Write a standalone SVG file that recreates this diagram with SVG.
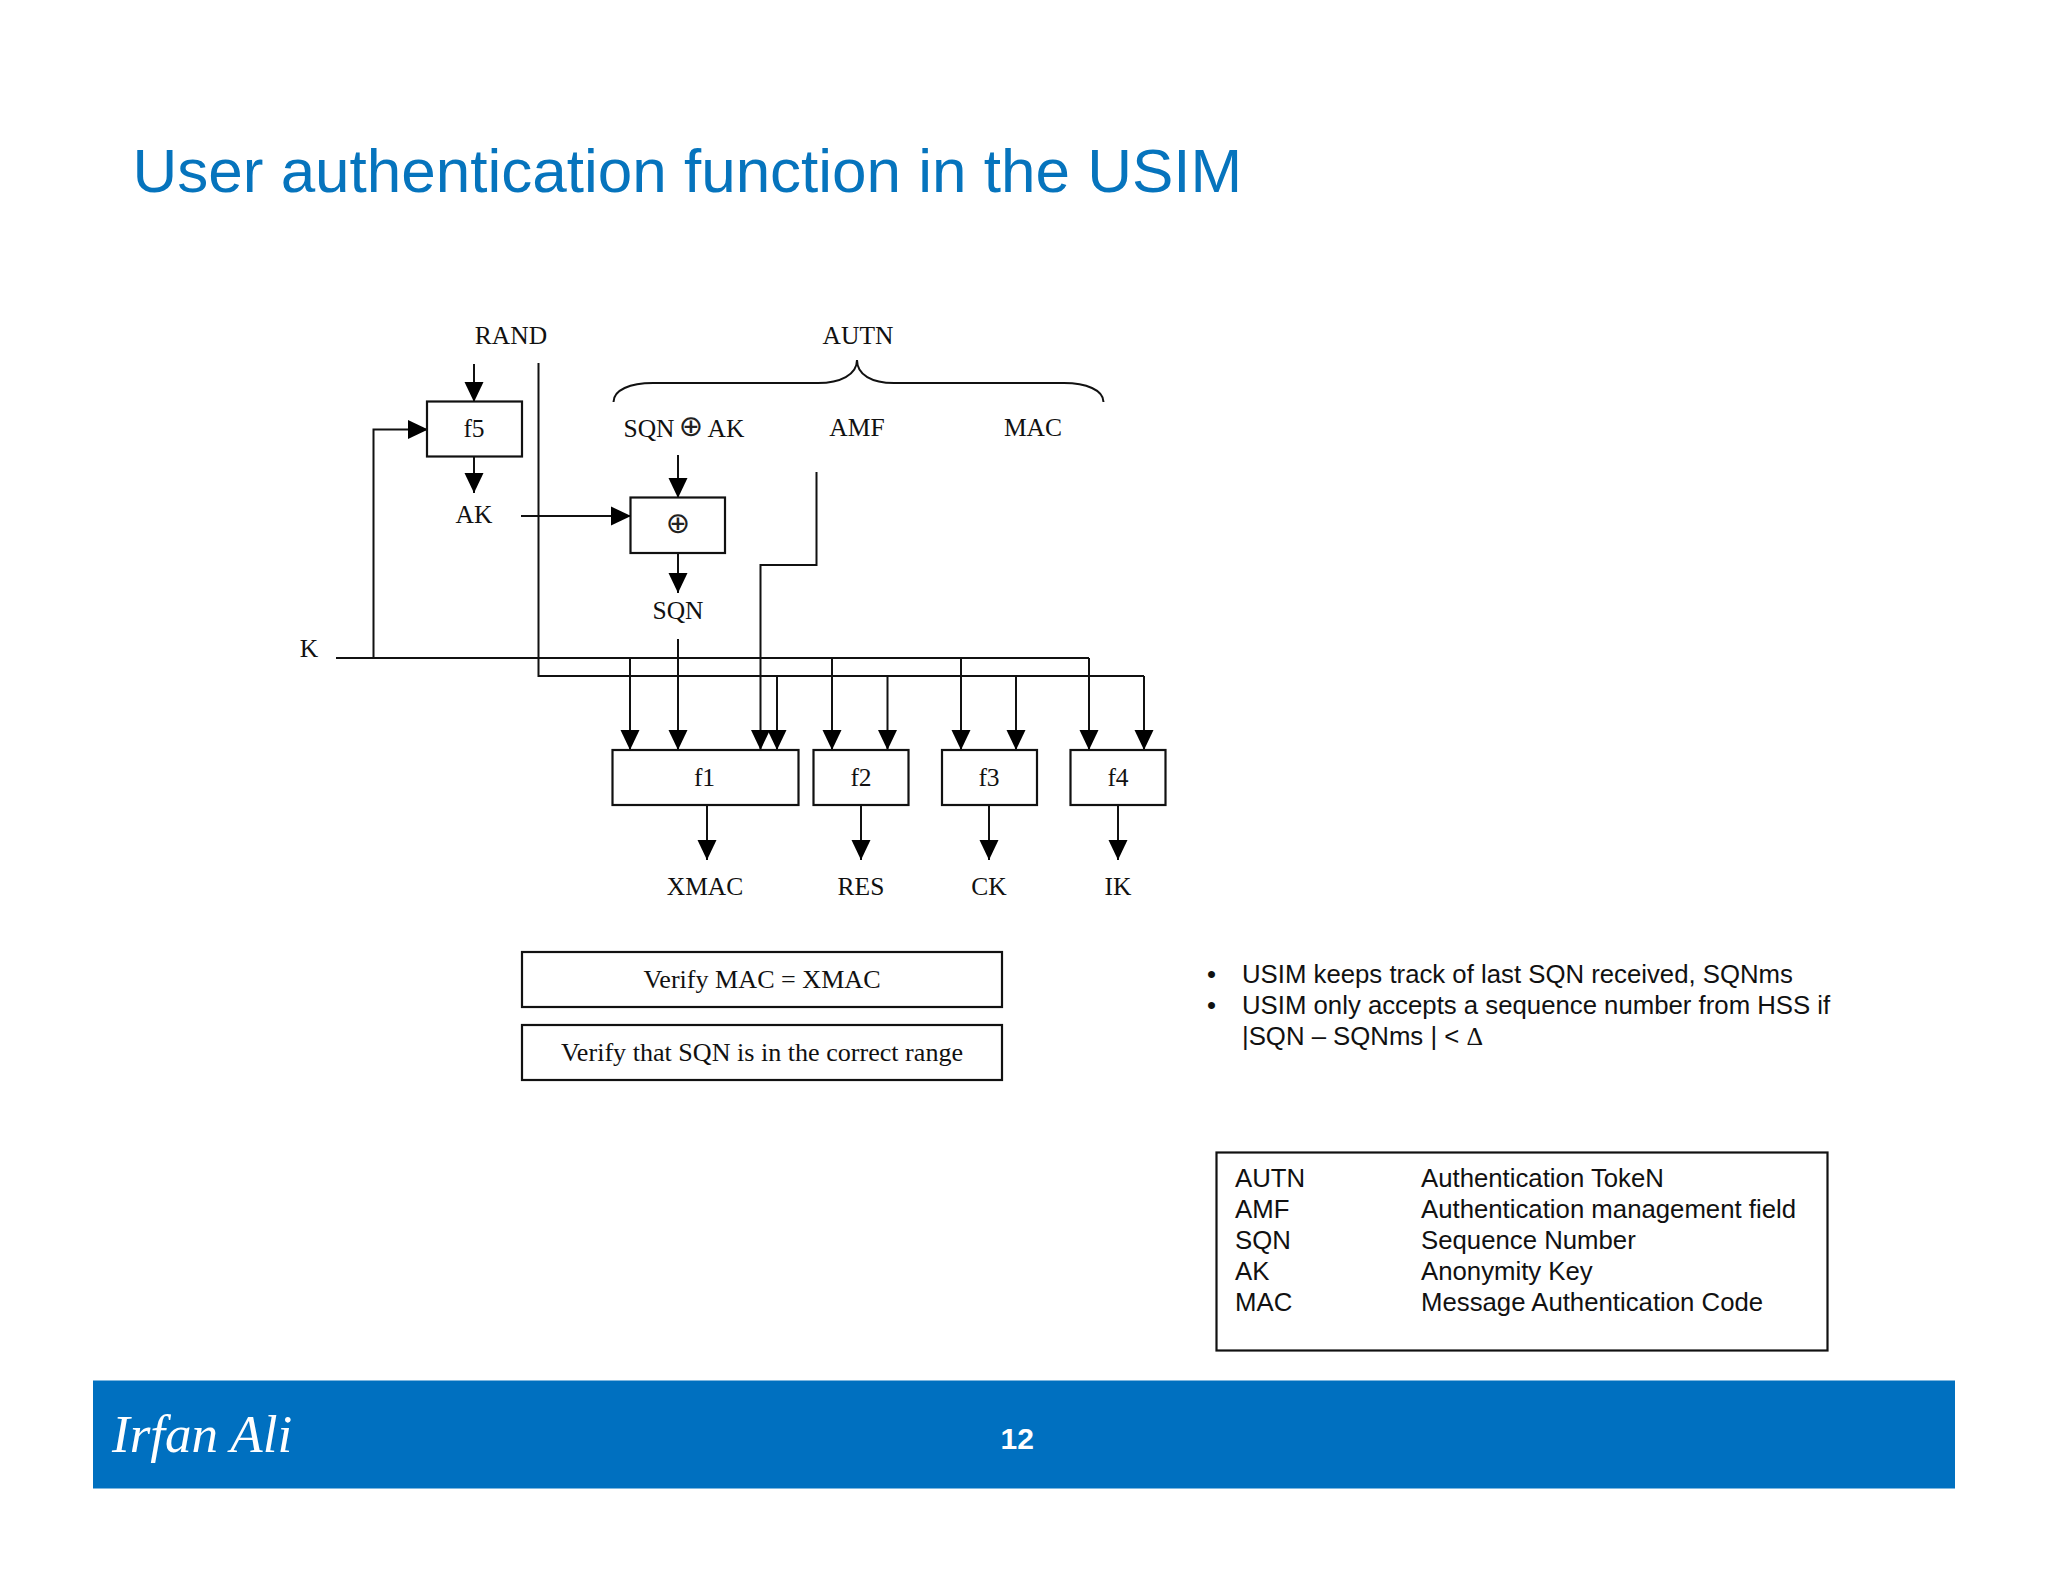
<svg xmlns="http://www.w3.org/2000/svg" width="2048" height="1582" viewBox="0 0 2048 1582">
<style>
.s{font-family:"Liberation Serif","Times New Roman",serif;font-size:25.5px;fill:#111;text-anchor:middle}
.v{font-size:26.100px}
.x{font-family:"DejaVu Sans",sans-serif;font-size:29px;fill:#222;text-anchor:middle}
.a{font-family:"Liberation Sans",Arial,sans-serif;font-size:25.750px;fill:#111}
.b{fill:#fff;stroke:#111;stroke-width:2.200}
.c{fill:none;stroke:#111;stroke-width:2}
.ar{marker-end:url(#h)}
</style>
<defs><marker id="h" markerUnits="userSpaceOnUse" markerWidth="20" markerHeight="20" refX="20" refY="10" orient="auto" viewBox="0 0 20 20"><path d="M0,0.500L20,10L0,19.500Z" fill="#000"/></marker></defs>
<rect width="2048" height="1582" fill="#fff"/>
<text id="title" x="132.500" y="192" font-family="Liberation Sans,Arial,sans-serif" font-size="62" fill="#0674bd">User authentication function in the USIM</text>
<g id="connectors">
<path class="c ar" d="M474,364V402"/>
<path class="c ar" d="M336,658H373.500V429.500H428"/>
<path class="c ar" d="M474,456V493"/>
<path class="c ar" d="M521,516H631"/>
<path class="c ar" d="M678,455V498"/>
<path class="c ar" d="M678,553V593"/>
<path class="c ar" d="M678,639V750"/>
<path class="c ar" d="M816.500,472V565H760.500V750"/>
<path class="c" d="M336,658H1089"/>
<path class="c" d="M538.500,363V676H1144"/>
<path class="c ar" d="M630,658V750"/>
<path class="c ar" d="M777,676V750"/>
<path class="c ar" d="M832,658V750"/>
<path class="c ar" d="M887.500,676V750"/>
<path class="c ar" d="M961,658V750"/>
<path class="c ar" d="M1016,676V750"/>
<path class="c ar" d="M1089,658V750"/>
<path class="c ar" d="M1144,676V750"/>
<path class="c ar" d="M707,805V860"/>
<path class="c ar" d="M861,805V860"/>
<path class="c ar" d="M989,805V860"/>
<path class="c ar" d="M1118,805V860"/>
<path id="brace" class="c" d="M613.500,402C613.500,390 630,383 653,383L818,383C840,383 857,375 857,360C857,375 872,383 894,383L1064,383C1086,383 1103.500,390 1103.500,402"/>
</g>
<g id="f5"><rect class="b" x="427" y="401.500" width="95" height="55"/><text class="s" x="474" y="436.500">f5</text></g>
<g id="xor"><rect class="b" x="630.500" y="497.500" width="94.500" height="55.500"/><text class="x" x="678" y="533">⊕</text></g>
<g id="f1"><rect class="b" x="612.500" y="750" width="186" height="55"/><text class="s" x="704.500" y="786">f1</text></g>
<g id="f2"><rect class="b" x="813.500" y="750" width="95" height="55"/><text class="s" x="861" y="786">f2</text></g>
<g id="f3"><rect class="b" x="942" y="750" width="95" height="55"/><text class="s" x="989" y="786">f3</text></g>
<g id="f4"><rect class="b" x="1070.500" y="750" width="95" height="55"/><text class="s" x="1118" y="786">f4</text></g>
<g id="labels">
<text class="s" x="511" y="344">RAND</text>
<text class="s" x="858" y="344">AUTN</text>
<text class="s" x="649" y="437">SQN</text>
<text class="x" x="691" y="436">⊕</text>
<text class="s" x="726" y="437">AK</text>
<text class="s" x="857" y="436">AMF</text>
<text class="s" x="1033" y="436">MAC</text>
<text class="s" x="474" y="523">AK</text>
<text class="s" x="678" y="619">SQN</text>
<text class="s" x="309" y="657">K</text>
<text class="s" x="705" y="895">XMAC</text>
<text class="s" x="861" y="895">RES</text>
<text class="s" x="989" y="895">CK</text>
<text class="s" x="1118" y="895">IK</text>
</g>
<g id="verify-mac"><rect class="b" x="522" y="952" width="480" height="55"/><text class="s v" x="762" y="988">Verify MAC = XMAC</text></g>
<g id="verify-sqn"><rect class="b" x="522" y="1025" width="480" height="55"/><text class="s v" x="762" y="1061">Verify that SQN is in the correct range</text></g>
<g id="bullets">
<text class="a" x="1207" y="983">•</text><text class="a" x="1242" y="983">USIM keeps track of last SQN received, SQNms</text>
<text class="a" x="1207" y="1014">•</text><text class="a" x="1242" y="1014">USIM only accepts a sequence number from HSS if</text>
<text class="a" x="1242" y="1045">|SQN – SQNms | &lt; <tspan font-family="Liberation Serif,serif">Δ</tspan></text>
</g>
<g id="legend"><rect class="b" x="1216.500" y="1152.500" width="611" height="198"/>
<text class="a" x="1235" y="1187">AUTN</text><text class="a" x="1421" y="1187">Authentication TokeN</text>
<text class="a" x="1235" y="1218">AMF</text><text class="a" x="1421" y="1218">Authentication management field</text>
<text class="a" x="1235" y="1249">SQN</text><text class="a" x="1421" y="1249">Sequence Number</text>
<text class="a" x="1235" y="1280">AK</text><text class="a" x="1421" y="1280">Anonymity Key</text>
<text class="a" x="1235" y="1311">MAC</text><text class="a" x="1421" y="1311">Message Authentication Code</text>
</g>
<g id="footer"><rect x="93" y="1380.500" width="1862" height="108" fill="#0070c0"/>
<text x="112" y="1451.500" font-family="Liberation Serif,serif" font-style="italic" font-size="53" fill="#fff">Irfan Ali</text>
<text x="1000.500" y="1449" font-family="Liberation Sans,sans-serif" font-weight="bold" font-size="30" fill="#fff">12</text></g>
</svg>
